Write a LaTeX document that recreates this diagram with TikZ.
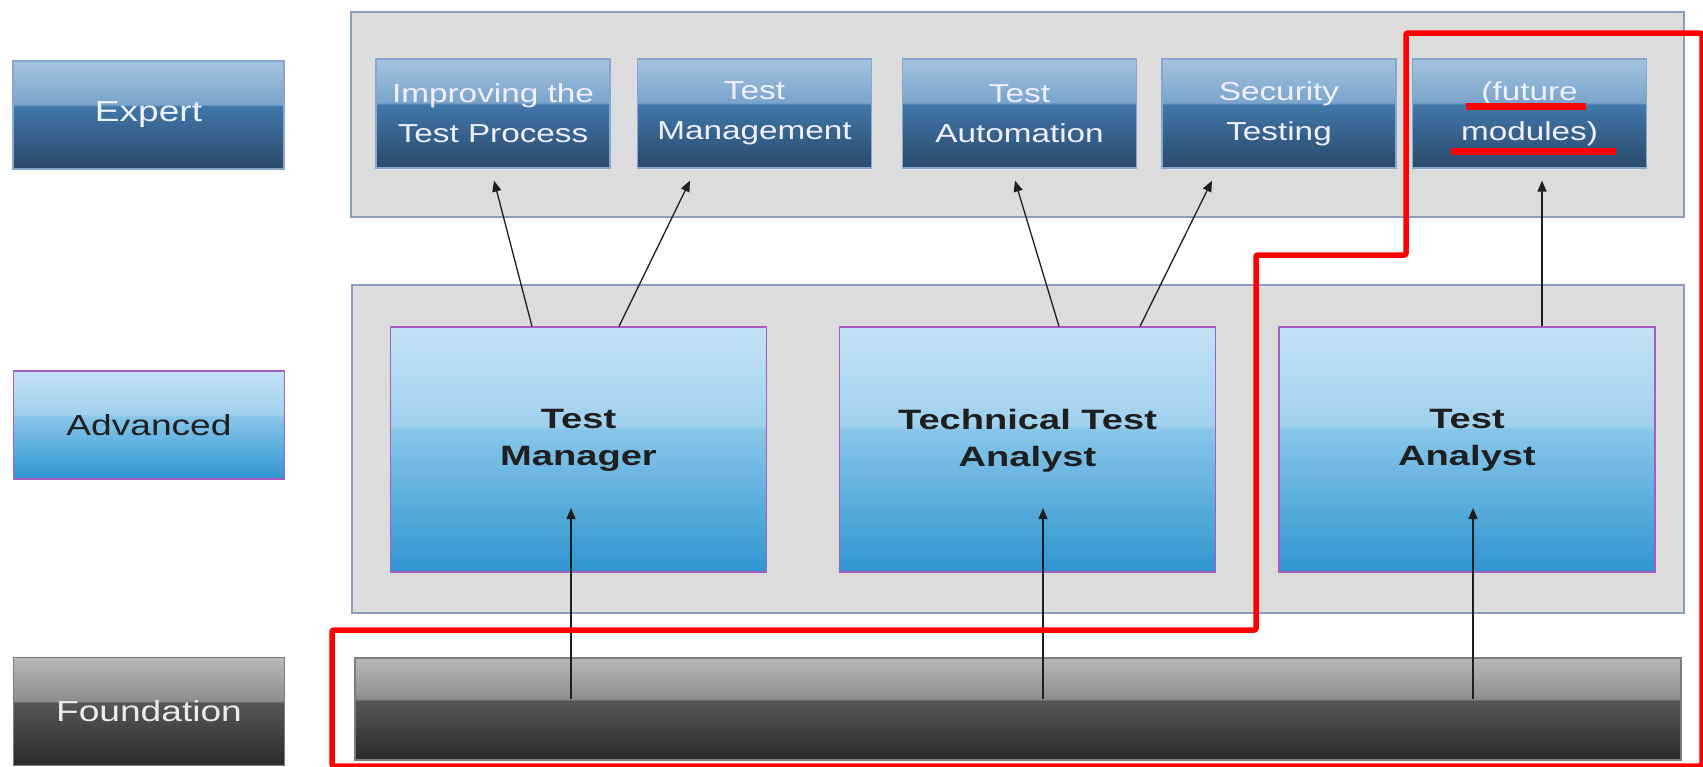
\documentclass[tikz,border=0pt]{standalone}
\usepackage{fontspec}
\setmainfont[FakeStretch=1.28]{Liberation Sans}
\newfontfamily\rolefont[FakeStretch=1.36]{Liberation Sans}
\usepackage{xcolor}
\usepackage{tikz}
\usetikzlibrary{positioning, calc, arrows.meta}
\definecolor{ExpTop}{HTML}{A5C3DF}
\definecolor{ExpHi}{HTML}{7AA4CC}
\definecolor{ExpLo}{HTML}{4177A9}
\definecolor{ExpBot}{HTML}{2A496B}
\definecolor{AdvTop}{HTML}{C2E2F5}
\definecolor{AdvHi}{HTML}{A0D1EE}
\definecolor{AdvLo}{HTML}{88C6E9}
\definecolor{AdvBot}{HTML}{2F95D0}
\definecolor{FndTop}{HTML}{B8B8B8}
\definecolor{FndHi}{HTML}{8E8E8E}
\definecolor{FndLo}{HTML}{565656}
\definecolor{FndBot}{HTML}{2B2B2B}
\definecolor{PanelGray}{HTML}{DCDCDC}
\definecolor{PanelLine}{HTML}{8C9BC2}
\definecolor{ExpLine}{HTML}{86A8CF}
\definecolor{AdvLine}{HTML}{A55DC2}
\definecolor{FndLine}{HTML}{7C7C7C}
\definecolor{MarkRed}{HTML}{FF0000}
\definecolor{ArrGray}{HTML}{1E1E1E}
\pgfdeclareverticalshading{expgloss}{100bp}{color(0bp)=(ExpBot); color(25bp)=(ExpBot); color(54bp)=(ExpLo); color(55bp)=(ExpHi); color(75bp)=(ExpTop); color(100bp)=(ExpTop)}
\pgfdeclareverticalshading{advgloss}{100bp}{color(0bp)=(AdvBot); color(25bp)=(AdvBot); color(54bp)=(AdvLo); color(55bp)=(AdvHi); color(75bp)=(AdvTop); color(100bp)=(AdvTop)}
\pgfdeclareverticalshading{fndgloss}{100bp}{color(0bp)=(FndBot); color(25bp)=(FndBot); color(54bp)=(FndLo); color(55bp)=(FndHi); color(75bp)=(FndTop); color(100bp)=(FndTop)}

\begin{document}
\begin{tikzpicture}[x=1pt, y=-1pt,
  lvl/.style={rectangle, inner sep=0pt, align=center, font=\fontsize{26}{40}\selectfont},
  expbox/.style={lvl, draw=ExpLine, line width=1.2pt, shading=expgloss, text=white!94!blue},
  advbox/.style={lvl, draw=AdvLine, line width=1.2pt, shading=advgloss, text=black!88},
  fndbox/.style={lvl, draw=FndLine, line width=1.2pt, shading=fndgloss, text=white!92!black},
  tier/.style={minimum width=271pt, minimum height=108pt, font=\fontsize{29}{40}\selectfont},
  panel/.style={rectangle, draw=PanelLine, line width=2pt, fill=PanelGray, inner sep=0pt},
  module/.style={expbox, minimum width=234pt, minimum height=109pt},
  role/.style={advbox, minimum width=376pt, minimum height=245pt, text depth=24pt, font=\rolefont\fontsize{28}{37}\selectfont\bfseries},
  up/.style={-{Triangle[length=11pt,width=9pt]}, ArrGray, line width=1.3pt},
  redline/.style={draw=MarkRed, line width=5.5pt, rounded corners=2pt},
  redunder/.style={draw=MarkRed, line width=7pt}]
  \path[use as bounding box, fill=white] (0,0) rectangle (1703,766);

  % level labels
  \node[expbox, tier] (expert) at (148.5,115) {Expert};
  \node[advbox, tier] (advanced) at (149,425) {Advanced};
  \node[fndbox, tier] (foundation) at (149,711.5) {Foundation};

  % panels
  \node[panel, minimum width=1333pt, minimum height=205pt] (exppanel) at (1017.5,114.5) {};
  \node[panel, minimum width=1332pt, minimum height=328pt] (advpanel) at (1018,449) {};
  \node[fndbox, minimum width=1326pt, minimum height=102pt] (fndbar) at (1018,709) {};

  % expert modules
  \node[module] (itp) at (493,113.5) {Improving the\\Test Process};
  \node[module] (tmg) at (754.5,113.5) {Test\\Management};
  \node[module] (tau) at (1019.5,113.5) {Test\\Automation};
  \node[module] (sec) at (1279,113.5) {Security\\Testing};
  \node[module] (fut) at (1529.5,113.5) {(future\\modules)};

  % advanced roles
  \node[role] (tm) at (578.5,449.5) {Test\\Manager};
  \node[role] (tta) at (1027.5,449.5) {Technical Test\\Analyst};
  \node[role] (ta) at (1467,449.5) {Test\\Analyst};

  % foundation -> advanced
  \coordinate (fndline) at ($(fndbar.north)!0.4!(fndbar.south)$);
  \coordinate (tmin) at (571,508);
  \coordinate (ttain) at (1043,508);
  \coordinate (tain) at (1473,508);
  \draw[up] (tmin |- fndline) -- (tmin);
  \draw[up] (ttain |- fndline) -- (ttain);
  \draw[up] (tain |- fndline) -- (tain);

  % advanced -> expert
  \draw[up] ([xshift=-46.5pt]tm.north) -- ([xshift=1pt,yshift=-12pt]itp.south);
  \draw[up] ([xshift=40.5pt]tm.north) -- ([xshift=-64.5pt,yshift=-12pt]tmg.south);
  \draw[up] ([xshift=31.5pt]tta.north) -- ([xshift=-4.5pt,yshift=-12pt]tau.south);
  \draw[up] ([xshift=112.5pt]tta.north) -- ([xshift=-67pt,yshift=-12pt]sec.south);
  \draw[up] ([xshift=75pt]ta.north) -- ([xshift=12.5pt,yshift=-12pt]fut.south);

  % red markup
  \draw[redline] (1702,33) -- (1406,33) -- (1406,255) -- (1256,255) -- (1256,630)
    -- (332,630) -- (332,766) -- (1702,766) -- cycle;
  \draw[redunder] (1466,106) -- (1586,106);
  \draw[redunder] (1451,151) -- (1616,151);
\end{tikzpicture}
\end{document}
